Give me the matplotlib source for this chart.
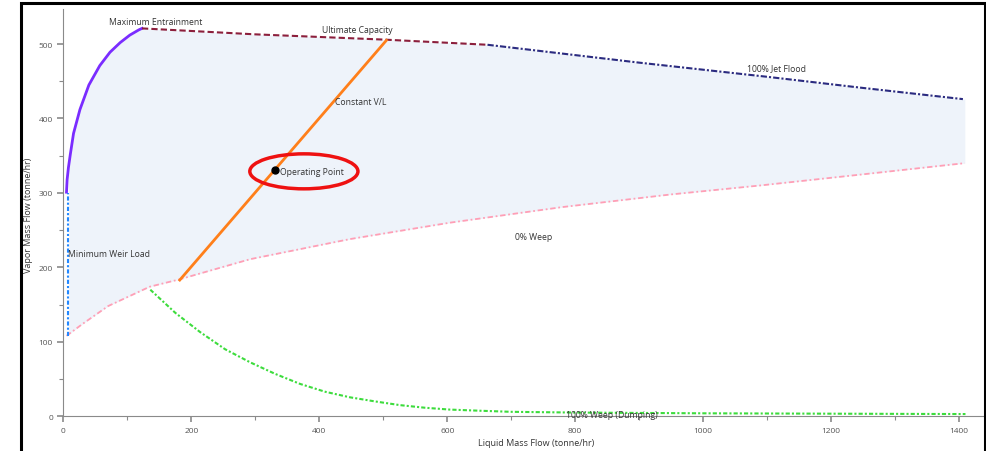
import numpy as np
import matplotlib
matplotlib.use("Agg")
import matplotlib.pyplot as plt
from matplotlib.patches import Ellipse, Rectangle
from matplotlib.ticker import MultipleLocator

plt.rcParams['font.family'] = ['Open Sans', 'DejaVu Sans']

# tray stability envelope (liquid, vapor) in tonne/hr
max_entr_L = [5, 6, 8, 11, 16, 26, 40, 57, 73, 89, 104, 118, 123]
max_entr_V = [301, 318, 334, 352, 380, 412, 445, 471, 489, 502, 512, 519, 521]

ult_cap_L = [123, 300, 500, 663]
ult_cap_V = [521, 513, 506, 499]

jet_flood_L = [663, 900, 1100, 1250, 1406]
jet_flood_V = [499, 475, 456, 441, 426]

weep0_L = [5, 30, 70, 135, 182, 292, 448, 604, 780, 950, 1089, 1250, 1409]
weep0_V = [108, 124, 148, 174, 184, 211, 238, 260, 281, 298, 310, 325, 340]

dump_L = [136, 175, 214, 253, 292, 331, 370, 409, 448, 487, 526, 565, 604, 650, 700, 800, 900, 1000, 1200, 1410]
dump_V = [170, 139, 113, 90, 72.5, 57, 43.5, 33, 25.5, 20, 15, 11.5, 9, 7.5, 6, 5, 4.5, 4, 3.5, 3]

weir_L = [8, 8]
weir_V = [108, 300]

vl_L = [182, 505]
vl_V = [183, 505]

op_L, op_V = 331, 331

fig = plt.figure(figsize=(9.86, 4.52), dpi=100)
ax = fig.add_axes([0.0642, 0.0768, 0.9338, 0.901])

# shaded operating window
top_L = max_entr_L + ult_cap_L[1:] + jet_flood_L[1:]
top_V = max_entr_V + ult_cap_V[1:] + jet_flood_V[1:]
xs = np.linspace(weir_L[0], 1409, 600)
ax.fill_between(xs, np.interp(xs, weep0_L, weep0_V), np.interp(xs, top_L, top_V),
                color='#eef3fa', lw=0, zorder=0)

ax.plot(max_entr_L, max_entr_V, color='#7a2cff', lw=2, zorder=3)
ax.plot(ult_cap_L, ult_cap_V, color='#8c1f3c', lw=1.5, dashes=(3, 1.5), zorder=3)
ax.plot(jet_flood_L, jet_flood_V, color='#2b2b80', lw=1.5, dashes=(3, 1, 1, 1), zorder=3)
ax.plot(weep0_L, weep0_V, color='#ff9fb6', lw=1.3, dashes=(3, 1.5, 1, 1.5), zorder=3)
ax.plot(dump_L, dump_V, color='#3ddc3d', lw=1.5, dashes=(2, 1, 1, 1), zorder=3)
ax.plot(weir_L, weir_V, color='#2288ff', lw=1.5, dashes=(2, 1, 1, 1), zorder=3)
ax.plot(vl_L, vl_V, color='#ff7f1a', lw=2, zorder=3)
ax.plot(op_L, op_V, 'o', color='black', ms=5, zorder=5)
ax.add_patch(Ellipse((376, 329), 169, 47, fill=False, ec='#ee1111', lw=2.5, zorder=6))

fs = 6.2
tc = '#333333'
ax.text(145, 530, 'Maximum Entrainment', fontsize=fs, color=tc, ha='center', va='center')
ax.text(459, 519, 'Ultimate Capacity', fontsize=fs, color=tc, ha='center', va='center')
ax.text(425, 423, 'Constant V/L', fontsize=fs, color=tc, ha='left', va='center')
ax.text(339, 329, 'Operating Point', fontsize=fs, color=tc, ha='left', va='center')
ax.text(8, 218, 'Minimum Weir Load', fontsize=fs, color=tc, ha='left', va='center')
ax.text(1115, 468, '100% Jet Flood', fontsize=fs, color=tc, ha='center', va='center')
ax.text(735, 242, '0% Weep', fontsize=fs, color=tc, ha='center', va='center')
ax.text(857, 3, '100% Weep (Dumping)', fontsize=fs, color=tc, ha='center', va='center', zorder=4)

ax.set_xlim(0, 1439)
ax.set_ylim(0, 547)
ax.xaxis.set_major_locator(MultipleLocator(200))
ax.xaxis.set_minor_locator(MultipleLocator(100))
ax.yaxis.set_major_locator(MultipleLocator(100))
ax.yaxis.set_minor_locator(MultipleLocator(50))
for s in ['top', 'right']:
    ax.spines[s].set_visible(False)
for s in ['left', 'bottom']:
    ax.spines[s].set_color('#8a8a8a')
ax.tick_params(which='both', colors='#8a8a8a', labelcolor='#555555', labelsize=6)
ax.tick_params(which='major', length=4, width=1.2)
ax.tick_params(which='minor', length=3, width=0.8)

ax.set_xlabel('Liquid Mass Flow (tonne/hr)', fontsize=6.5, color=tc)
ax.set_ylabel('Vapor Mass Flow (tonne/hr)', fontsize=6.5, color=tc)
ax.xaxis.set_label_coords(0.514, -0.054)
ax.yaxis.set_label_coords(-0.033, 0.495)

# black frame around the figure
fig.patches.append(Rectangle((20.5 / 986, -0.05), 964 / 986, 1.05 - 4 / 452,
                             transform=fig.transFigure, fill=False, ec='black', lw=2.2))

fig.savefig('out.png', dpi=100)
